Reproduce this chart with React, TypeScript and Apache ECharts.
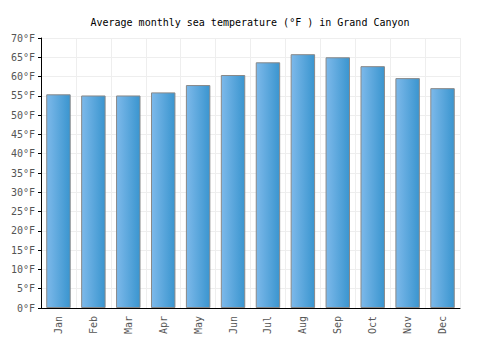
import React, { useEffect, useRef } from "react";
import * as echarts from "echarts";

const months = ["Jan", "Feb", "Mar", "Apr", "May", "Jun", "Jul", "Aug", "Sep", "Oct", "Nov", "Dec"];
const seaTempF = [55.4, 55.1, 55.1, 55.9, 57.8, 60.4, 63.7, 65.8, 65.0, 62.7, 59.6, 57.0];
const titleText = "Average monthly sea temperature (°F ) in Grand Canyon";

export default function App() {
  const ref = useRef<HTMLDivElement>(null);
  useEffect(() => {
    if (!ref.current) return;
    const chart = echarts.init(ref.current, null, { renderer: "svg" });
    const font = "'DejaVu Sans Mono', monospace";
    chart.setOption({
      animation: false,
      backgroundColor: "#ffffff",
      title: {
        text: titleText,
        left: "center",
        top: 12,
        textStyle: { fontFamily: font, fontSize: 10, fontWeight: "normal", color: "#000" },
      },
      grid: { left: 41, right: 40, top: 38, bottom: 42 },
      xAxis: {
        type: "category",
        data: months,
        axisLine: { show: true, lineStyle: { color: "#000", width: 1 } },
        axisTick: { show: false },
        splitLine: { show: true, interval: 0, lineStyle: { color: "#eeeeee" } },
        axisLabel: { rotate: 90, interval: 0, fontFamily: font, fontSize: 10, color: "#555", margin: 8 },
      },
      yAxis: {
        type: "value",
        min: 0,
        max: 70,
        interval: 5,
        axisLine: { show: true, lineStyle: { color: "#000", width: 1 } },
        axisTick: { show: true, length: 3, lineStyle: { color: "#000" } },
        splitLine: { show: true, lineStyle: { color: "#eeeeee" } },
        axisLabel: { formatter: "{value}°F", fontFamily: font, fontSize: 10, color: "#555", margin: 6 },
      },
      series: [
        {
          type: "bar",
          data: seaTempF,
          barWidth: "70%",
          itemStyle: {
            color: new echarts.graphic.LinearGradient(0, 0, 1, 0, [
              { offset: 0, color: "#7db9ea" },
              { offset: 1, color: "#3a95cf" },
            ]),
            borderColor: "#888888",
            borderWidth: 1,
          },
        },
      ],
    });
    return () => chart.dispose();
  }, []);
  return <div ref={ref} style={{ width: 500, height: 350, margin: -8 }} />;
}
